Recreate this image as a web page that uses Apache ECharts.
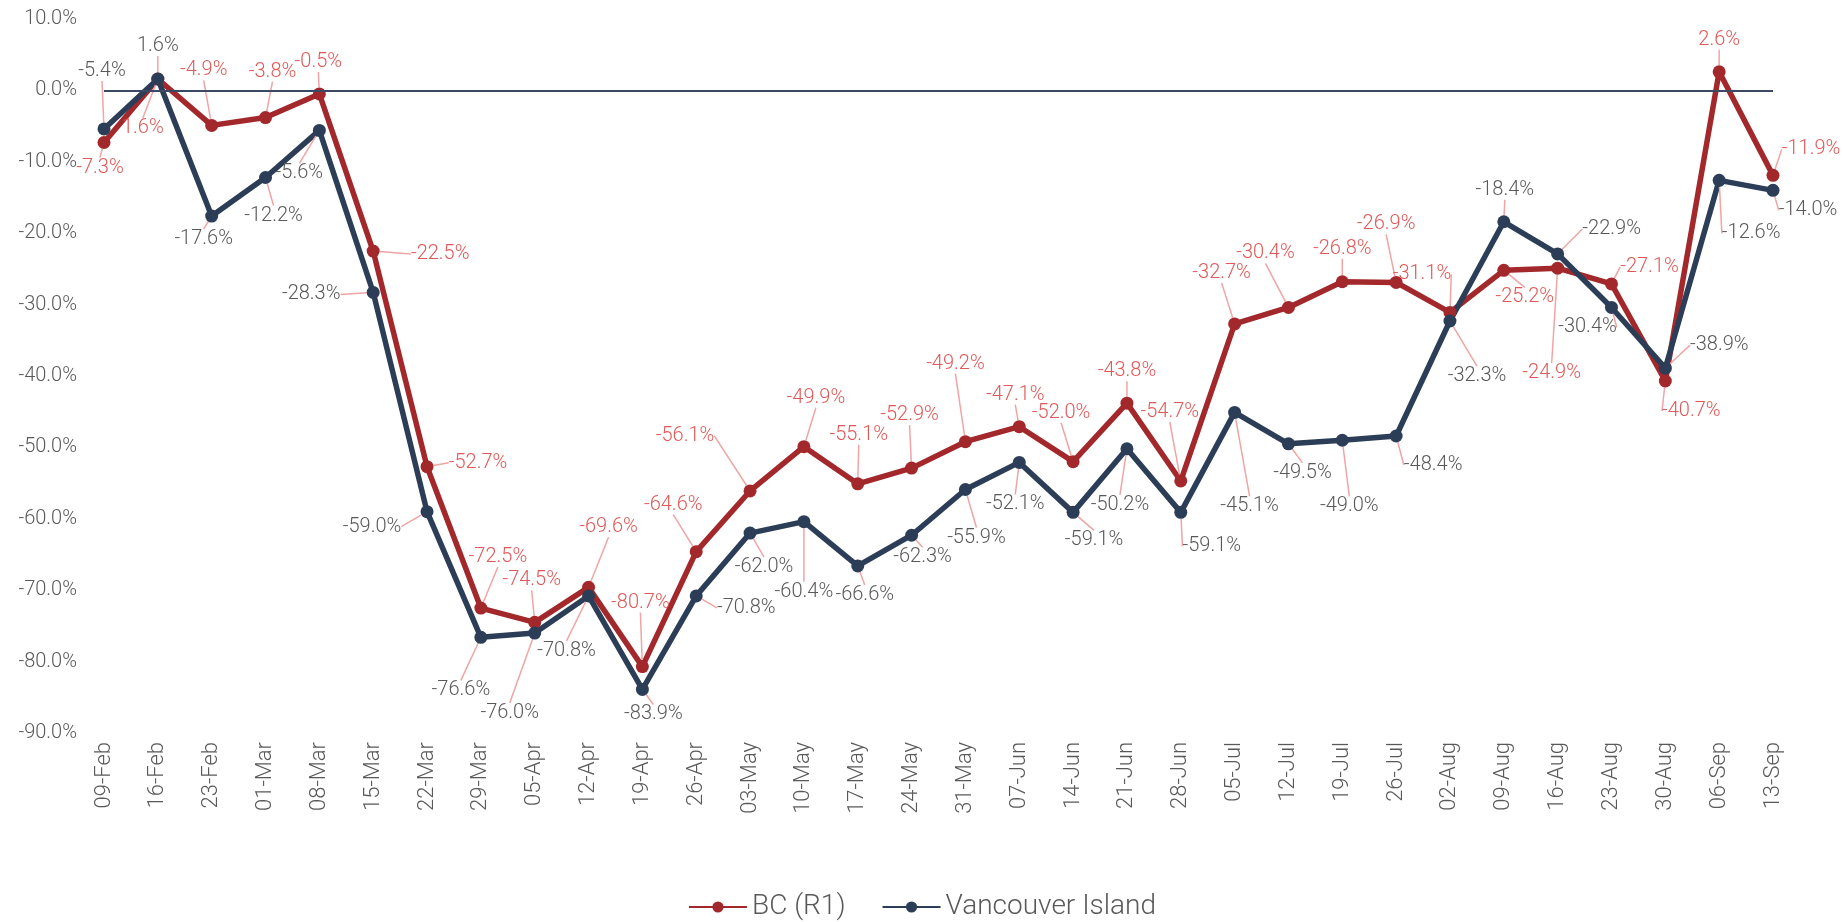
<!DOCTYPE html>
<html>
<head>
<meta charset="utf-8">
<title>BC (R1) vs Vancouver Island</title>
<script src="https://cdn.jsdelivr.net/npm/echarts@6/dist/echarts.min.js"></script>
<style>
  html, body { margin: 0; padding: 0; background: #fff; }
  #chart { width: 1844px; height: 922px; }
</style>
</head>
<body>
<div id="chart"></div>
<script>
  // weekly categories
  var categories = ['09-Feb', '16-Feb', '23-Feb', '01-Mar', '08-Mar', '15-Mar', '22-Mar', '29-Mar',
    '05-Apr', '12-Apr', '19-Apr', '26-Apr', '03-May', '10-May', '17-May', '24-May', '31-May',
    '07-Jun', '14-Jun', '21-Jun', '28-Jun', '05-Jul', '12-Jul', '19-Jul', '26-Jul',
    '02-Aug', '09-Aug', '16-Aug', '23-Aug', '30-Aug', '06-Sep', '13-Sep'];

  var bcValues = [-7.3, 1.6, -4.9, -3.8, -0.5, -22.5, -52.7, -72.5, -74.5, -69.6, -80.7, -64.6,
    -56.1, -49.9, -55.1, -52.9, -49.2, -47.1, -52.0, -43.8, -54.7, -32.7, -30.4, -26.8, -26.9,
    -31.1, -25.2, -24.9, -27.1, -40.7, 2.6, -11.9];

  var viValues = [-5.4, 1.6, -17.6, -12.2, -5.6, -28.3, -59.0, -76.6, -76.0, -70.8, -83.9, -70.8,
    -62.0, -60.4, -66.6, -62.3, -55.9, -52.1, -59.1, -50.2, -59.1, -45.1, -49.5, -49.0, -48.4,
    -32.3, -18.4, -22.9, -30.4, -38.9, -12.6, -14.0];

  var yTicks = { min: -90, max: 10, step: 10 };

  // where each data label sits, relative to its point (px)
  var bcLabelOffsets = [[-4, 25], [-15, 49], [-8, -55], [7, -46], [-1, -32], [67, 3], [51, -4],
    [17, -51], [-3, -42], [20, -60], [-2, -64], [-23, -47], [-65, -55], [12, -49], [1, -49],
    [-2, -53], [-10, -78], [-4, -32], [-12, -49], [0, -32], [-11, -69], [-13, -51], [-23, -54],
    [0, -33], [-10, -58], [-28, -38], [21, 27], [-6, 105], [38, -17], [26, 30], [0, -32], [38, -26]];

  var viLabelOffsets = [[-2, -58], [0, -33], [-8, 23], [8, 38], [-20, 43], [-62, 2], [-55, 15],
    [-20, 53], [-25, 80], [-22, 55], [11, 25], [50, 12], [14, 34], [0, 70], [7, 29], [11, 22],
    [11, 48], [-4, 42], [21, 28], [-7, 56], [31, 34], [15, 94], [14, 29], [7, 66], [37, 29],
    [27, 55], [1, -32], [54, -25], [-24, 20], [54, -23], [32, 53], [35, 20]];

  var FONT = 'Roboto';
  var chart = echarts.init(document.getElementById('chart'));

  function pct(v) {
    return v.toFixed(1) + '%';
  }

  function makeSeries(name, values, lineColor, labelColor, offsets) {
    return {
      name: name,
      type: 'line',
      data: values,
      symbol: 'circle',
      symbolSize: 13,
      lineStyle: { color: lineColor, width: 5.5 },
      itemStyle: { color: lineColor },
      label: {
        show: true,
        position: 'inside',
        align: 'center',
        verticalAlign: 'middle',
        color: labelColor,
        fontFamily: FONT,
        fontWeight: 300,
        fontSize: 20,
        formatter: function (p) { return pct(p.value); }
      },
      labelLine: {
        show: true,
        lineStyle: { color: '#f0a4a4', width: 1.5 }
      },
      labelLayout: function (params) {
        var off = offsets[params.dataIndex];
        return { dx: off[0], dy: off[1] };
      }
    };
  }

  var bcSeries = makeSeries('BC (R1)', bcValues, '#a3282b', '#e05858', bcLabelOffsets);
  bcSeries.markLine = {
    silent: true,
    symbol: 'none',
    label: { show: false },
    lineStyle: { color: '#3b4a62', width: 2, type: 'solid' },
    data: [{ yAxis: 0 }]
  };
  var viSeries = makeSeries('Vancouver Island', viValues, '#2c3e57', '#595959', viLabelOffsets);

  chart.setOption({
    animation: false,
    grid: { left: 104, right: 71, top: 19, bottom: 189 },
    legend: {
      data: ['BC (R1)', 'Vancouver Island'],
      left: 'center',
      top: 888,
      itemWidth: 58,
      itemHeight: 14,
      itemGap: 36,
      textStyle: { fontFamily: FONT, fontWeight: 300, fontSize: 28, color: '#595959' }
    },
    xAxis: {
      type: 'category',
      data: categories,
      boundaryGap: false,
      axisLine: { show: false },
      axisTick: { show: false },
      axisLabel: {
        rotate: 90,
        margin: 9,
        color: '#595959',
        fontFamily: FONT,
        fontWeight: 300,
        fontSize: 22
      }
    },
    yAxis: {
      type: 'value',
      min: yTicks.min,
      max: yTicks.max,
      interval: yTicks.step,
      axisLine: { show: false },
      axisTick: { show: false },
      splitLine: { show: false },
      axisLabel: {
        margin: 27,
        color: '#595959',
        fontFamily: FONT,
        fontWeight: 300,
        fontSize: 20,
        formatter: function (v) { return pct(v); }
      }
    },
    series: [bcSeries, viSeries]
  });
</script>
</body>
</html>
